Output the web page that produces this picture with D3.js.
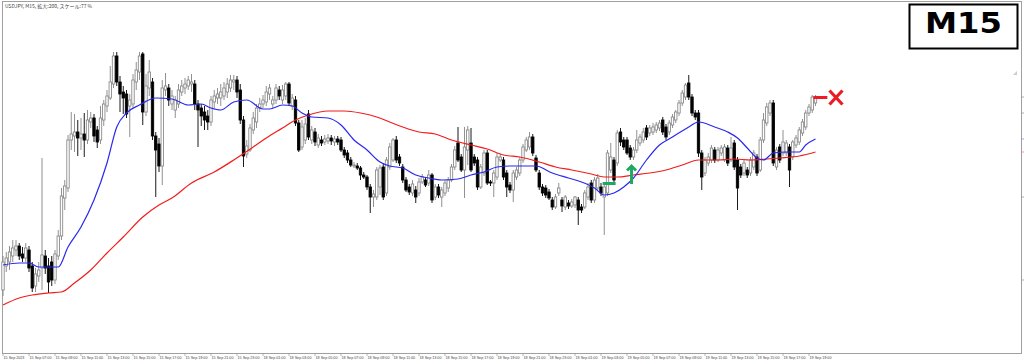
<!DOCTYPE html>
<html><head><meta charset="utf-8">
<script src="https://cdn.jsdelivr.net/npm/d3@7"></script>
<style>html,body{margin:0;padding:0;background:#fff;}svg{display:block}</style>
</head><body><svg id="c" width="1024" height="360"></svg>
<script>
// ---- DATA (USDJPY M15, prices in JPY) ----
const openP = [148.010,148.034,148.038,148.044,148.050,148.054,148.046,148.042,148.050,148.034,
148.014,148.024,148.032,148.044,148.034,148.038,148.020,148.044,148.064,148.102,
148.112,148.160,148.164,148.168,148.162,148.166,148.160,148.178,148.182,148.170,
148.160,148.180,148.194,148.202,148.216,148.244,148.218,148.208,148.206,148.194,
148.196,148.218,148.228,148.246,148.188,148.212,148.218,148.164,148.156,148.134,
148.210,148.212,148.196,148.190,148.196,148.208,148.212,148.214,148.216,148.216,
148.196,148.192,148.188,148.184,148.178,148.198,148.202,148.202,148.204,148.208,
148.212,148.218,148.220,148.210,148.180,148.146,148.150,148.170,148.178,148.192,
148.196,148.198,148.206,148.196,148.200,148.210,148.200,148.204,148.216,148.194,
148.200,148.177,148.153,148.160,148.186,148.160,148.168,148.155,148.160,148.158,
148.159,148.162,148.158,148.161,148.160,148.150,148.147,148.140,148.134,148.134,
148.132,148.125,148.123,148.113,148.103,148.103,148.113,148.133,148.107,148.133,
148.140,148.160,148.143,148.133,148.120,148.113,148.107,148.110,148.107,148.118,
148.120,148.117,148.125,148.103,148.113,148.103,148.107,148.112,148.120,148.133,
148.157,148.143,148.130,148.150,148.157,148.143,148.140,148.113,148.127,148.147,
148.118,148.117,148.123,148.140,148.140,148.127,148.115,148.110,148.123,148.127,
148.140,148.150,148.153,148.163,148.142,148.127,148.113,148.112,148.108,148.100,
148.093,148.107,148.100,148.093,148.097,148.094,148.095,148.100,148.093,148.093,
148.103,148.117,148.100,148.112,148.113,148.103,148.107,148.130,148.140,148.137,
148.168,148.160,148.160,148.152,148.143,148.150,148.157,148.160,148.172,148.167,
148.168,148.170,148.172,148.180,148.173,148.168,148.175,148.180,148.187,148.197,
148.203,148.217,148.203,148.187,148.187,148.147,148.127,148.137,148.140,148.150,
148.140,148.147,148.140,148.152,148.140,148.157,148.140,148.133,148.127,148.130,
148.127,148.133,148.143,148.130,148.160,148.177,148.187,148.197,148.133,148.153,
148.147,148.147,148.153,148.143,148.155,148.158,148.167,148.173,148.187,148.190,
148.197];
const highP = [148.044,148.048,148.054,148.060,148.060,148.057,148.053,148.057,148.054,148.038,
148.032,148.038,148.142,148.050,148.042,148.044,148.050,148.070,148.112,148.120,
148.165,148.188,148.186,148.180,148.182,148.187,148.190,148.188,148.186,148.174,
148.194,148.200,148.210,148.234,148.248,148.248,148.224,148.214,148.210,148.206,
148.226,148.238,148.248,148.248,148.226,148.240,148.222,148.168,148.162,148.220,
148.227,148.216,148.210,148.204,148.216,148.220,148.222,148.224,148.226,148.220,
148.200,148.196,148.194,148.190,148.204,148.210,148.212,148.216,148.218,148.222,
148.225,148.225,148.224,148.216,148.184,148.160,148.176,148.188,148.196,148.202,
148.205,148.214,148.216,148.204,148.216,148.214,148.215,148.218,148.218,148.206,
148.204,148.180,148.180,148.182,148.190,148.174,148.172,148.166,148.164,148.165,
148.166,148.165,148.164,148.164,148.163,148.153,148.150,148.143,148.138,148.137,
148.134,148.128,148.125,148.116,148.110,148.133,148.135,148.137,148.143,148.157,
148.162,148.164,148.146,148.136,148.123,148.116,148.120,148.114,148.122,148.126,
148.123,148.130,148.127,148.116,148.116,148.113,148.120,148.123,148.136,148.154,
148.173,148.146,148.173,148.174,148.172,148.146,148.143,148.136,148.150,148.150,
148.120,148.130,148.147,148.146,148.143,148.130,148.118,148.130,148.133,148.143,
148.156,148.163,148.168,148.166,148.145,148.130,148.116,148.115,148.111,148.103,
148.106,148.117,148.103,148.105,148.100,148.101,148.104,148.103,148.096,148.110,
148.117,148.120,148.123,148.126,148.117,148.116,148.150,148.157,148.143,148.170,
148.172,148.163,148.163,148.155,148.153,148.170,148.166,148.172,148.175,148.175,
148.177,148.178,148.180,148.183,148.176,148.180,148.186,148.190,148.200,148.210,
148.217,148.225,148.206,148.190,148.190,148.150,148.143,148.147,148.155,148.153,
148.153,148.155,148.156,148.155,148.163,148.160,148.143,148.136,148.140,148.133,
148.143,148.150,148.146,148.163,148.187,148.197,148.200,148.200,148.153,148.156,
148.170,148.160,148.156,148.160,148.165,148.173,148.181,148.190,148.196,148.205,
148.205];
const lowP = [148.004,148.028,148.030,148.038,148.044,148.040,148.038,148.038,148.028,148.008,
148.008,148.018,148.010,148.026,148.007,148.014,148.016,148.040,148.060,148.090,
148.108,148.150,148.148,148.144,148.150,148.143,148.156,148.172,148.158,148.152,
148.156,148.174,148.188,148.200,148.212,148.214,148.188,148.186,148.182,148.163,
148.192,148.210,148.220,148.175,148.184,148.204,148.160,148.103,148.128,148.115,
148.204,148.194,148.190,148.182,148.192,148.204,148.206,148.210,148.208,148.190,
148.153,148.174,148.170,148.170,148.174,148.192,148.196,148.194,148.200,148.202,
148.208,148.210,148.202,148.176,148.133,148.142,148.148,148.166,148.172,148.188,
148.192,148.194,148.200,148.192,148.196,148.200,148.196,148.200,148.194,148.190,
148.174,148.148,148.150,148.156,148.160,148.156,148.154,148.152,148.154,148.155,
148.156,148.155,148.154,148.155,148.148,148.142,148.137,148.133,148.132,148.130,
148.120,148.121,148.110,148.087,148.093,148.100,148.105,148.100,148.104,148.130,
148.138,148.137,148.134,148.117,148.108,148.105,148.104,148.097,148.104,148.116,
148.113,148.114,148.097,148.100,148.102,148.093,148.104,148.108,148.118,148.130,
148.138,148.128,148.102,148.135,148.128,148.134,148.110,148.111,148.124,148.115,
148.114,148.103,148.120,148.138,148.120,148.103,148.107,148.098,148.120,148.124,
148.137,148.148,148.150,148.144,148.128,148.110,148.104,148.102,148.100,148.090,
148.091,148.104,148.088,148.090,148.091,148.092,148.092,148.075,148.087,148.091,
148.100,148.097,148.097,148.110,148.104,148.065,148.104,148.127,148.116,148.134,
148.154,148.150,148.145,148.140,148.140,148.147,148.154,148.157,148.160,148.164,
148.165,148.167,148.169,148.165,148.160,148.165,148.172,148.177,148.184,148.194,
148.200,148.200,148.184,148.180,148.143,148.110,148.124,148.134,148.137,148.137,
148.138,148.144,148.138,148.134,148.138,148.130,148.090,148.122,148.124,148.122,
148.124,148.130,148.124,148.128,148.157,148.174,148.184,148.134,148.130,148.137,
148.144,148.144,148.113,148.140,148.152,148.155,148.164,148.170,148.184,148.187,
148.194];
const closeP = [148.038,148.042,148.048,148.052,148.054,148.044,148.042,148.052,148.032,148.012,
148.026,148.030,148.045,148.032,148.018,148.020,148.046,148.064,148.104,148.114,
148.160,148.166,148.168,148.162,148.166,148.160,148.180,148.182,148.164,148.158,
148.182,148.196,148.204,148.218,148.244,148.218,148.206,148.202,148.186,148.200,
148.220,148.230,148.244,148.188,148.214,148.228,148.164,148.150,148.134,148.212,
148.214,148.200,148.204,148.200,148.210,148.214,148.216,148.220,148.218,148.196,
148.190,148.184,148.180,148.178,148.200,148.204,148.206,148.208,148.212,148.216,
148.220,148.220,148.208,148.180,148.144,148.154,148.172,148.182,148.192,148.196,
148.200,148.208,148.212,148.200,148.212,148.204,148.210,148.216,148.197,148.202,
148.177,148.150,148.173,148.176,148.163,148.170,148.158,148.162,148.157,148.161,
148.162,148.159,148.161,148.158,148.150,148.145,148.140,148.135,148.135,148.132,
148.125,148.123,148.113,148.103,148.106,148.130,148.132,148.103,148.140,148.153,
148.160,148.140,148.137,148.120,148.110,148.108,148.116,148.103,148.118,148.123,
148.115,148.125,148.100,148.113,148.105,148.110,148.117,148.120,148.133,148.150,
148.140,148.130,148.153,148.170,148.130,148.137,148.113,148.133,148.147,148.117,
148.117,148.127,148.143,148.143,148.123,148.113,148.110,148.127,148.130,148.140,
148.153,148.160,148.163,148.147,148.130,148.113,148.107,148.105,148.102,148.093,
148.103,148.112,148.094,148.103,148.094,148.098,148.103,148.090,148.090,148.107,
148.113,148.100,148.120,148.122,148.107,148.113,148.147,148.143,148.120,148.167,
148.158,148.153,148.147,148.143,148.150,148.160,148.163,148.168,148.163,148.172,
148.173,148.175,148.177,148.168,148.163,148.177,148.183,148.188,148.197,148.207,
148.215,148.203,148.187,148.183,148.147,148.123,148.140,148.143,148.152,148.140,
148.150,148.152,148.153,148.137,148.152,148.133,148.112,148.125,148.137,148.125,
148.140,148.147,148.127,148.160,148.180,148.193,148.197,148.137,148.150,148.140,
148.158,148.157,148.130,148.158,148.162,148.170,148.178,148.187,148.193,148.203,
148.203];

// fast (blue) and slow (red) moving averages at bar indices
const blueIdx = [0,5,8,11,17,20,24,28,32,35,38,42,47,52,57,61,64,67,71,75,80,82,86,89,92,95,100,104,108,112,116,119,123,127,131,135,140,144,148,152,156,160,164,169,174,178,182,185,188,191,194,198,202,206,211,214,219,223,226,229,232,234,237,241,245,247,250];
const blueMA = [148.035,148.037,148.037,148.033,148.033,148.053,148.073,148.100,148.137,148.173,148.187,148.195,148.202,148.201,148.195,148.196,148.192,148.190,148.198,148.200,148.191,148.191,148.195,148.194,148.187,148.183,148.182,148.175,148.160,148.150,148.138,148.134,148.132,148.125,148.122,148.120,148.121,148.125,148.128,148.133,148.134,148.134,148.134,148.127,148.122,148.118,148.112,148.105,148.107,148.113,148.122,148.140,148.155,148.163,148.173,148.178,148.173,148.168,148.162,148.152,148.142,148.140,148.147,148.148,148.148,148.155,148.161];
const redIdx = [0,5,9,14,18,22,27,32,37,43,48,52,58,65,71,77,81,86,90,94,100,105,110,115,119,123,128,133,138,144,149,154,159,165,170,175,181,185,189,194,199,204,209,214,220,225,230,235,239,245,250];
const redMA = [147.995,148.002,148.005,148.007,148.008,148.017,148.030,148.047,148.063,148.083,148.095,148.102,148.117,148.128,148.140,148.153,148.162,148.172,148.180,148.185,148.189,148.189,148.187,148.183,148.178,148.173,148.168,148.166,148.160,148.155,148.151,148.145,148.143,148.138,148.133,148.130,148.126,148.123,148.123,148.125,148.127,148.130,148.135,148.140,148.140,148.141,148.140,148.141,148.142,148.144,148.148];

// time axis labels, one every 8 bars (2 hours)
const timeLabels = ["15 Sep 2023","15 Sep 07:00","15 Sep 09:00","15 Sep 11:00","15 Sep 13:00","15 Sep 15:00","15 Sep 17:00","15 Sep 19:00","15 Sep 21:00","15 Sep 23:00",
"18 Sep 01:00","18 Sep 03:00","18 Sep 05:00","18 Sep 07:00","18 Sep 09:00","18 Sep 11:00","18 Sep 13:00","18 Sep 15:00","18 Sep 17:00","18 Sep 19:00","18 Sep 21:00","18 Sep 23:00",
"19 Sep 01:00","19 Sep 03:00","19 Sep 05:00","19 Sep 07:00","19 Sep 09:00","19 Sep 11:00","19 Sep 13:00","19 Sep 15:00","19 Sep 17:00","19 Sep 19:00"];
const priceTicks = [148.187,148.103,148.020];
const titleText = "USDJPY, M15, 拡大:200, スケール:77 %";
const timeframe = "M15";
// trade signals: entry (green), exit (red)
const entryIdx = [186.5], entryPrice = [148.1165];
const arrowIdx = [193.4], arrowTop = [148.135], arrowBottom = [148.116];
const exitIdx = [251.5], exitPrice = [148.2025];
const crossIdx = [256.3], crossPrice = [148.2025];

// ---- DRAW ----
const svg = d3.select('#c');
const x = d3.scaleLinear().domain([0, 250]).range([3, 815.5]);
const y = d3.scaleLinear().domain([147.94, 148.30]).range([360, 0]);
const bars = d3.range(openP.length).map(i => ({i, o: openP[i], h: highP[i], l: lowP[i], c: closeP[i]}));

// frame
svg.append('rect').attr('x', 2.5).attr('y', 1.5).attr('width', 1019).attr('height', 352)
  .attr('fill', 'none').attr('stroke', '#a0a0a0').attr('stroke-width', 1);

// title
svg.append('text').attr('x', 5).attr('y', 7.5).attr('font-family', 'Noto Sans CJK JP, sans-serif')
  .attr('font-size', 5).attr('fill', '#444').text(titleText);

// candles
const bullCol = '#858585';
const g = svg.append('g');
const cg = g.selectAll('g.c').data(bars).join('g');
cg.append('line')
  .attr('x1', d => x(d.i)).attr('x2', d => x(d.i))
  .attr('y1', d => y(d.h)).attr('y2', d => y(d.l))
  .attr('stroke', d => d.c >= d.o ? bullCol : '#000').attr('stroke-width', 0.9);
cg.append('rect')
  .attr('x', d => x(d.i) - 1.2).attr('width', 2.4)
  .attr('y', d => y(Math.max(d.o, d.c)))
  .attr('height', d => Math.max(0.8, Math.abs(y(d.o) - y(d.c))))
  .attr('fill', d => d.c >= d.o ? '#fff' : '#000')
  .attr('stroke', d => d.c >= d.o ? bullCol : '#000').attr('stroke-width', 0.85);

// moving averages
const line = d3.line().x(d => x(d[0])).y(d => y(d[1])).curve(d3.curveMonotoneX);
svg.append('path').attr('d', line(redIdx.map((v, k) => [v, redMA[k]])))
  .attr('fill', 'none').attr('stroke', '#f21c1c').attr('stroke-width', 1.2);
svg.append('path').attr('d', line(blueIdx.map((v, k) => [v, blueMA[k]])))
  .attr('fill', 'none').attr('stroke', '#2828f0').attr('stroke-width', 1.2);

// time axis
const ticks = timeLabels.map((t, k) => ({t, i: k * 8}));
svg.selectAll('line.xt').data(ticks).join('line')
  .attr('x1', d => x(d.i)).attr('x2', d => x(d.i)).attr('y1', 353.5).attr('y2', 356)
  .attr('stroke', '#888').attr('stroke-width', 0.6);
svg.selectAll('text.xl').data(ticks).join('text')
  .attr('x', d => x(d.i) + 0.5).attr('y', 358.8)
  .attr('font-family', 'Liberation Sans, Arial, sans-serif').attr('font-size', 3.7)
  .attr('fill', '#444').text(d => d.t);

// price axis ticks (right)
svg.selectAll('line.pt').data(priceTicks).join('line')
  .attr('x1', 1021.5).attr('x2', 1024).attr('y1', d => y(d)).attr('y2', d => y(d))
  .attr('stroke', '#999').attr('stroke-width', 0.8);
const lastClose = closeP[closeP.length - 1];
[[lastClose, '#999'], [blueMA[blueMA.length - 1], '#8888ee'], [redMA[redMA.length - 1], '#ee8888']].forEach(([v, col]) => {
  svg.append('line').attr('x1', 1021.5).attr('x2', 1024).attr('y1', y(v)).attr('y2', y(v))
    .attr('stroke', col).attr('stroke-width', 0.8);
});
// chart shift marker
svg.append('path').attr('d', 'M1013,75 L1017,75 L1017,71 Z').attr('fill', '#c8cad8');

// signals
const green = '#1fa863', red = '#ec1b24';
entryIdx.forEach((v, k) => {
  svg.append('line').attr('x1', x(v) - 6.5).attr('x2', x(v) + 6.5)
    .attr('y1', y(entryPrice[k])).attr('y2', y(entryPrice[k]))
    .attr('stroke', green).attr('stroke-width', 3);
});
arrowIdx.forEach((v, k) => {
  const ax = x(v), t = y(arrowTop[k]), b = y(arrowBottom[k]);
  svg.append('line').attr('x1', ax).attr('x2', ax).attr('y1', t + 1.5).attr('y2', b)
    .attr('stroke', green).attr('stroke-width', 3);
  svg.append('path').attr('d', `M${ax - 4.5},${t + 5.5} L${ax},${t + 1} L${ax + 4.5},${t + 5.5}`)
    .attr('fill', 'none').attr('stroke', green).attr('stroke-width', 2.8);
});
exitIdx.forEach((v, k) => {
  svg.append('line').attr('x1', x(v) - 7).attr('x2', x(v) + 7)
    .attr('y1', y(exitPrice[k])).attr('y2', y(exitPrice[k]))
    .attr('stroke', red).attr('stroke-width', 3);
});
crossIdx.forEach((v, k) => {
  const cx = x(v), cy = y(crossPrice[k]);
  svg.append('path').attr('d', `M${cx - 6.5},${cy - 7} L${cx + 6.5},${cy + 7} M${cx + 6.5},${cy - 7} L${cx - 6.5},${cy + 7}`)
    .attr('stroke', red).attr('stroke-width', 3.2).attr('fill', 'none');
});

// timeframe box
svg.append('rect').attr('x', 909.5).attr('y', 4.5).attr('width', 108).attr('height', 44)
  .attr('fill', '#fff').attr('stroke', '#000').attr('stroke-width', 2);
svg.append('text').attr('x', 963.5).attr('y', 33.3).attr('text-anchor', 'middle')
  .attr('font-family', 'DejaVu Sans, sans-serif').attr('font-weight', 'bold')
  .attr('font-size', 27.5).attr('textLength', 77).attr('lengthAdjust', 'spacingAndGlyphs')
  .attr('fill', '#000').text(timeframe);
</script>
</body></html>
